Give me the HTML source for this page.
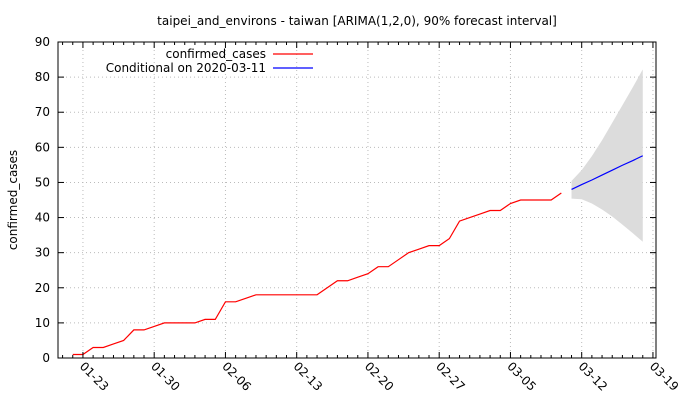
<!DOCTYPE html>
<html><head><meta charset="utf-8"><style>
body{margin:0;background:#fff}
svg{display:block;font-family:"DejaVu Sans","Liberation Sans",sans-serif}
</style></head><body>
<svg id="chart" width="680" height="400" xmlns="http://www.w3.org/2000/svg">
<text x="357" y="25" text-anchor="middle" font-size="12">taipei_and_environs - taiwan [ARIMA(1,2,0), 90% forecast interval]</text>
<text transform="translate(17,200) rotate(-90)" text-anchor="middle" font-size="12">confirmed_cases</text>
<g id="plot"></g>
</svg>
<script>
const obsDays=[-1,0,1,2,3,4,5,6,7,8,9,10,11,12,13,14,15,16,17,18,19,20,21,22,23,24,25,26,27,28,29,30,31,32,33,34,35,36,37,38,39,40,41,42,43,44,45,46,47];
const obsValues=[1,1,3,3,4,5,8,8,9,10,10,10,10,11,11,16,16,17,18,18,18,18,18,18,18,20,22,22,23,24,26,26,28,30,31,32,32,34,39,40,41,42,42,44,45,45,45,45,47];
const fcDays=[48,49,50,51,52,53,54,55];
const fcValues=[48,49.4,50.7,52.1,53.5,54.9,56.2,57.6];
const fcUpper=[50.4,53.5,57.5,62,67,72,77,82.2];
const fcLower=[45.4,45.2,44,42.3,40.3,38,35.6,33.1];
const yTicks=[0,10,20,30,40,50,60,70,80,90];
const xTickDays=[0,7,14,21,28,35,42,49,56];
const xTickLabels=["01-23","01-30","02-06","02-13","02-20","02-27","03-05","03-12","03-19"];
const L=58,R=656,T=42,B=358,XMIN=-2.45,XMAX=56.3,YMAX=90;
const x=d=>L+(d-XMIN)/(XMAX-XMIN)*(R-L);
const y=v=>B-v/YMAX*(B-T);
const NS="http://www.w3.org/2000/svg";
const g=document.getElementById('plot');
function mk(t,a,p){const e=document.createElementNS(NS,t);for(const k in a)e.setAttribute(k,a[k]);(p||g).appendChild(e);return e;}
yTicks.forEach(v=>{if(v>0&&v<90){const e=mk('line',{x1:L,x2:R,y1:y(v),y2:y(v),stroke:'#bbb','stroke-dasharray':'1,3'});

}});
xTickDays.forEach(d=>{const e=mk('line',{x1:x(d),x2:x(d),y1:T,y2:B,stroke:'#bbb','stroke-dasharray':'1,3'});

});
let pts=fcDays.map((d,i)=>x(d)+','+y(fcUpper[i])).concat(fcDays.slice().reverse().map((d,i)=>x(d)+','+y(fcLower[fcDays.length-1-i])));
const band=mk('polygon',{points:pts.join(' '),fill:'#dcdcdc'});


const obs=mk('polyline',{points:obsDays.map((d,i)=>x(d)+','+y(obsValues[i])).join(' '),fill:'none',stroke:'#f00','stroke-width':1.2});


const fc=mk('polyline',{points:fcDays.map((d,i)=>x(d)+','+y(fcValues[i])).join(' '),fill:'none',stroke:'#00f','stroke-width':1.2});


const fr=mk('rect',{x:L,y:T,width:R-L,height:B-T,fill:'none',stroke:'#000','stroke-width':1});


yTicks.forEach(v=>{
mk('line',{x1:L,x2:L+6,y1:y(v),y2:y(v),stroke:'#000'});
mk('line',{x1:R,x2:R-6,y1:y(v),y2:y(v),stroke:'#000'});
const t=mk('text',{x:L-8,y:y(v)+4,'text-anchor':'end','font-size':12});t.textContent=v;

});
for(let d=-2;d<=56;d++){const len=xTickDays.includes(d)?6:3;
mk('line',{x1:x(d),x2:x(d),y1:B,y2:B-len,stroke:'#000'});
mk('line',{x1:x(d),x2:x(d),y1:T,y2:T+len,stroke:'#000'});}
xTickDays.forEach((d,i)=>{const t=mk('text',{transform:`translate(${x(d)-4},${B+9}) rotate(45)`,'font-size':12});t.textContent=xTickLabels[i];

});
const l1=mk('text',{x:266,y:58,'text-anchor':'end','font-size':12});l1.textContent='confirmed_cases';


mk('line',{x1:273,x2:313,y1:54,y2:54,stroke:'#f00','stroke-width':1.2});
const l2=mk('text',{x:266,y:72,'text-anchor':'end','font-size':12});l2.textContent='Conditional on 2020-03-11';


mk('line',{x1:273,x2:313,y1:68,y2:68,stroke:'#00f','stroke-width':1.2});
</script>
</body></html>
